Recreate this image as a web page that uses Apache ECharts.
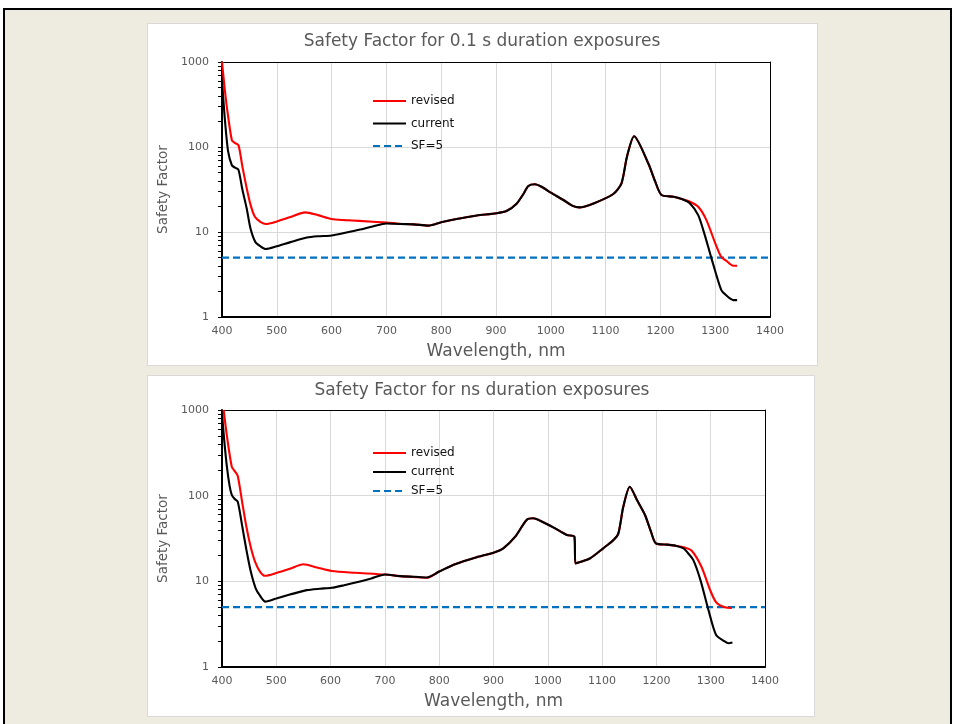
<!DOCTYPE html>
<html>
<head>
<meta charset="utf-8">
<script src="https://cdn.jsdelivr.net/npm/echarts@6/dist/echarts.min.js"></script>
<style>
  html, body { margin: 0; padding: 0; background: #ffffff; width: 954px; height: 724px; overflow: hidden; }
  #frame { position: absolute; left: 3px; top: 8px; width: 945px; height: 720px; background: #EEECE1;
           border-top: 2px solid #000; border-left: 2px solid #000; border-right: 2px solid #000; }
  .panel { position: absolute; background: #ffffff; border: 1px solid #d9d9d9; box-sizing: border-box; }
  #p1 { left: 147px; top: 23px; width: 671px; height: 343px; }
  #p2 { left: 147px; top: 375px; width: 668px; height: 342px; }
  #chart { position: absolute; left: 0; top: 0; width: 954px; height: 724px; }
</style>
</head>
<body>
<div id="frame"></div>
<div class="panel" id="p1"></div>
<div class="panel" id="p2"></div>
<div id="chart"></div>
<script>
// ---------- data ----------
const titles = ['Safety Factor for 0.1 s duration exposures', 'Safety Factor for ns duration exposures'];
const seriesNames = ['revised', 'current', 'SF=5'];
const xTicks = [400, 500, 600, 700, 800, 900, 1000, 1100, 1200, 1300, 1400];
const yTicks = [1, 10, 100, 1000];
const sfLevel = 5;

// Panel 1: 0.1 s exposures  [wavelength nm, safety factor]
const revised01 = [
  [400,1000],[405,480],[410,260],[418,120],[423,112],[430,105],[437,60],[445,33],[452,21],[460,15.1],
  [470,13.2],[480,12.4],[500,13.3],[525,15],[552,17],[575,15.8],[600,14.2],[625,13.8],[650,13.5],
  [700,12.9],[725,12.5],[750,12.3],[777,11.9],[800,13.0],[828,14.2],[865,15.6],[901,16.6],[920,17.8],
  [938,21.7],[950,28],[959,34.8],[971,36.4],[983,34.1],[1000,29],[1023,23.8],[1040,20.3],[1052,19.5],
  [1078,21.7],[1114,28],[1129,37.4],[1139,77],[1152,134],[1178,64],[1190,40],[1202,27.2],[1224,26],
  [1239,24.4],[1254,22.7],[1269,19.8],[1284,13.8],[1300,7.4],[1311,5.1],[1320,4.6],[1333,4.0],[1340,4.0]
];
const current01 = [
  [400,600],[405,220],[411,90],[418,61],[424,57],[430,54],[437,32],[445,19],[452,11],[461,7.6],
  [470,6.8],[480,6.3],[500,6.8],[525,7.6],[555,8.6],[575,8.9],[600,9.1],[625,9.8],[650,10.6],[675,11.6],
  [700,12.6],[725,12.4],[750,12.3],[777,11.9],[800,13.0],[828,14.2],[865,15.6],[901,16.6],[920,17.8],
  [938,21.7],[950,28],[959,34.8],[971,36.4],[983,34.1],[1000,29],[1023,23.8],[1040,20.3],[1052,19.5],
  [1078,21.7],[1114,28],[1129,37.4],[1139,77],[1152,134],[1178,64],[1190,40],[1202,27.2],[1224,26],
  [1239,24.4],[1254,21.7],[1269,15.8],[1281,9.2],[1294,4.7],[1311,2.08],[1320,1.8],[1333,1.58],[1340,1.58]
];

// Panel 2: ns exposures
const revisedNs = [
  [403,1000],[410,450],[418,218],[423,195],[429,170],[437,85],[445,43],[453,25],[461,16.9],[470,13],
  [479,11.6],[500,12.5],[525,14],[550,15.8],[575,14.5],[602,13.2],[645,12.6],[700,12.0],[728,11.5],
  [755,11.2],[777,11.0],[800,13.0],[829,15.8],[869,19.1],[900,21.6],[918,24.3],[940,33.2],[961,52],
  [973,54.4],[986,51],[1010,42.7],[1035,34.7],[1049,33.2],[1051,16.2],[1078,18.6],[1102,24.3],
  [1121,30.4],[1130,36.3],[1139,74],[1151,127],[1165,87],[1179,59.5],[1190,38],[1199,27.8],[1220,26.8],
  [1237,25.9],[1250,25],[1265,22.8],[1283,14.8],[1299,7.9],[1310,5.7],[1326,4.97],[1339,4.9]
];
const currentNs = [
  [400,920],[404,450],[409,218],[414,130],[418,102],[423,92],[429,85],[437,45],[445,23.2],[453,13],
  [462,8.3],[470,6.8],[480,5.8],[500,6.3],[525,7.0],[556,7.9],[580,8.2],[602,8.4],[625,9.0],[650,9.8],
  [675,10.8],[700,12.0],[728,11.5],[755,11.3],[777,11.1],[800,13.0],[829,15.8],[869,19.1],[900,21.6],
  [918,24.3],[940,33.2],[961,52],[973,54.4],[986,51],[1010,42.7],[1035,34.7],[1049,33.2],[1051,16.2],
  [1078,18.6],[1102,24.3],[1121,30.4],[1130,36.3],[1139,74],[1151,127],[1165,87],[1179,59.5],[1190,38],
  [1199,27.8],[1220,26.8],[1237,25.9],[1250,24.2],[1256,22.2],[1268,17.7],[1281,10.4],[1296,4.6],
  [1310,2.36],[1325,2.0],[1333,1.89],[1340,1.93]
];
const sfLine = [[xTicks[0], sfLevel], [xTicks[xTicks.length - 1], sfLevel]];

// ---------- chart ----------
const FONT = 'DejaVu Sans';
const GRAY = '#595959';
const minorTicks = [];
for (let d = 1; d < 1000; d *= 10) for (let k = 1; k < 10; k++) minorTicks.push(d * k);
minorTicks.push(1000);

const grids = [
  { left: 222, top: 62, width: 548, height: 255 },
  { left: 222, top: 410, width: 543, height: 257 }
];
const xMin = xTicks[0], xMax = xTicks[xTicks.length - 1];
const yMin = yTicks[0], yMax = yTicks[yTicks.length - 1];

function xAxisFor(i) {
  return {
    type: 'value', gridIndex: i, min: xMin, max: xMax, interval: 100, position: 'bottom',
    name: 'Wavelength, nm', nameLocation: 'middle', nameGap: 26,
    nameTextStyle: { fontFamily: FONT, fontSize: 17, color: GRAY },
    axisLine: { show: true, onZero: false, lineStyle: { color: '#000', width: 2 } },
    axisTick: { show: false },
    axisLabel: { fontFamily: FONT, fontSize: 11, color: GRAY, margin: 9, formatter: v => String(v) },
    splitLine: { show: true, lineStyle: { color: '#d9d9d9', width: 1 } }
  };
}
function xBorderFor(i) {
  return {
    type: 'value', gridIndex: i, min: xMin, max: xMax, interval: 100, position: 'top',
    axisLine: { show: true, onZero: false, lineStyle: { color: '#000', width: 1 } },
    axisTick: { show: false }, axisLabel: { show: false }, splitLine: { show: false }
  };
}
function yAxisFor(i) {
  return {
    type: 'log', logBase: 10, gridIndex: i, min: yMin, max: yMax, position: 'left',
    name: 'Safety Factor', nameLocation: 'middle', nameGap: 46,
    nameTextStyle: { fontFamily: FONT, fontSize: 13.5, color: GRAY },
    axisLine: { show: true, lineStyle: { color: '#000', width: 2 } },
    axisTick: { show: false },
    axisLabel: { fontFamily: FONT, fontSize: 11, color: GRAY, margin: 13, formatter: v => String(Math.round(v)) },
    splitLine: { show: true, lineStyle: { color: '#d9d9d9', width: 1 } }
  };
}
function tickAxisFor(i) {
  return {
    type: 'log', logBase: 10, gridIndex: i, min: yMin, max: yMax, position: 'left', offset: 0,
    axisLine: { show: false },
    axisTick: { show: true, length: 4, customValues: minorTicks, lineStyle: { color: '#000', width: 1 } },
    axisLabel: { show: false }, splitLine: { show: false }
  };
}
function yBorderFor(i) {
  return {
    type: 'log', logBase: 10, gridIndex: i, min: yMin, max: yMax, position: 'right', offset: 0,
    axisLine: { show: true, lineStyle: { color: '#000', width: 1 } },
    axisTick: { show: false }, axisLabel: { show: false }, splitLine: { show: false }
  };
}
function lineSeries(name, data, i, color, dashed) {
  return {
    name: name, type: 'line', xAxisIndex: i, yAxisIndex: i, data: data,
    showSymbol: false, symbol: 'none', smooth: dashed ? false : 0.25, clip: true,
    lineStyle: { color: color, width: dashed ? 2.25 : 2.1, type: dashed ? [7, 4] : 'solid' },
    itemStyle: { color: color },
    emphasis: { disabled: true }, silent: true, animation: false, z: dashed ? 3 : (color === '#000000' ? 5 : 4)
  };
}
function legendFor(top, gap) {
  return {
    orient: 'vertical', left: 372, top: top, padding: 0, itemWidth: 33, itemHeight: 14, itemGap: gap,
    data: seriesNames, selectedMode: false, itemStyle: { opacity: 0 },
    textStyle: { fontFamily: FONT, fontSize: 12, color: '#111' }
  };
}

const chart = echarts.init(document.getElementById('chart'), null, { renderer: 'canvas' });
chart.setOption({
  backgroundColor: 'transparent',
  animation: false,
  grid: grids.map(g => Object.assign({ show: false }, g)),
  xAxis: [xAxisFor(0), xAxisFor(1), xBorderFor(0), xBorderFor(1)],
  yAxis: [yAxisFor(0), yAxisFor(1), tickAxisFor(0), tickAxisFor(1), yBorderFor(0), yBorderFor(1)],
  legend: [legendFor(95, 10.5), legendFor(447, 7)],
  graphic: [
    { type: 'text', x: 482, y: 42, style: { text: titles[0], font: '17px "DejaVu Sans"', fill: GRAY, textAlign: 'center', textVerticalAlign: 'middle' } },
    { type: 'text', x: 482, y: 391, style: { text: titles[1], font: '17px "DejaVu Sans"', fill: GRAY, textAlign: 'center', textVerticalAlign: 'middle' } }
  ],
  series: [
    lineSeries(seriesNames[0], revised01, 0, '#ff0000', false),
    lineSeries(seriesNames[1], current01, 0, '#000000', false),
    lineSeries(seriesNames[2], sfLine, 0, '#0070C0', true),
    lineSeries(seriesNames[0], revisedNs, 1, '#ff0000', false),
    lineSeries(seriesNames[1], currentNs, 1, '#000000', false),
    lineSeries(seriesNames[2], sfLine, 1, '#0070C0', true)
  ]
});
</script>
</body>
</html>
